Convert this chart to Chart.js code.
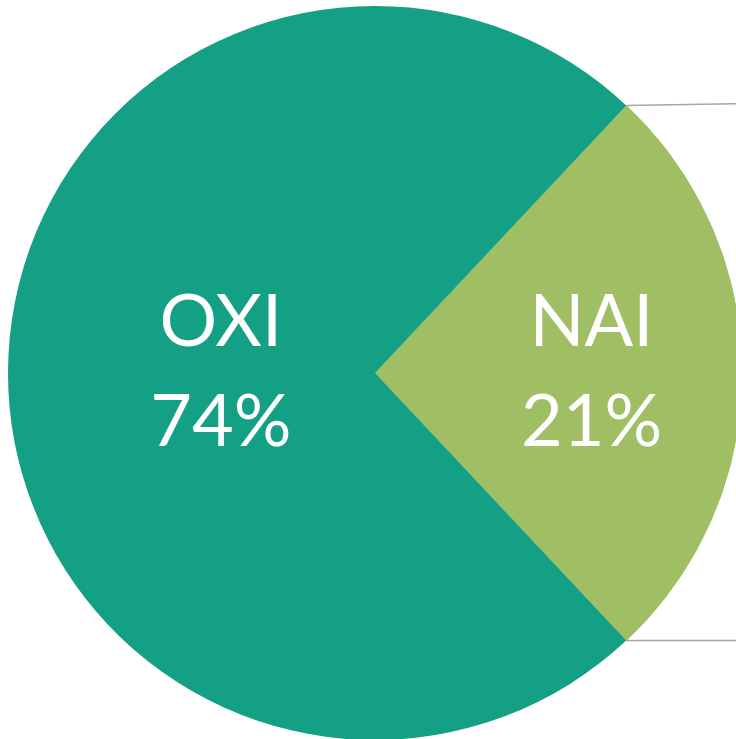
<!DOCTYPE html>
<html>
<head>
<meta charset="utf-8">
<script src="https://cdn.jsdelivr.net/npm/chart.js@4"></script>
<style>
  html, body { margin: 0; padding: 0; background: #fff; overflow: hidden; }
  #wrap { width: 736px; height: 739px; overflow: hidden; }
</style>
</head>
<body>
<div id="wrap"><canvas id="pie" width="750" height="746"></canvas></div>
<script>
// slice data (the third part is the rest of the split slice, drawn in the NAI colour)
const categories = ["NAI", "Other", "OXI"];
const values = [21, 5, 74];
const colours = ["#a0be63", "#a0be63", "#14a085"];

// label text per slice, and how far out from centre it sits (fraction of radius)
const labelSpots = [
  { group: [0, 1], lines: ["NAI", "21%"], frac: 0.59 },
  { group: [2], lines: ["OXI", "74%"], frac: 0.42 }
];

const pieLabels = {
  id: 'pieLabels',
  afterDatasetsDraw(chart) {
    const ctx = chart.ctx;
    const arcs = chart.getDatasetMeta(0).data;
    ctx.save();

    // connector lines from the split slice edges to the right edge
    const first = arcs[0], last = arcs[1];
    const r = first.outerRadius;
    const p1 = { x: first.x + r * Math.cos(first.startAngle), y: first.y + r * Math.sin(first.startAngle) };
    const p2 = { x: last.x + r * Math.cos(last.endAngle), y: last.y + r * Math.sin(last.endAngle) };
    ctx.strokeStyle = '#a6a6a6';
    ctx.lineWidth = 1.5;
    ctx.beginPath();
    ctx.moveTo(p1.x, p1.y); ctx.lineTo(chart.width, p1.y - 2);
    ctx.moveTo(p2.x, p2.y); ctx.lineTo(chart.width, p2.y);
    ctx.stroke();

    // slice labels
    ctx.fillStyle = '#ffffff';
    ctx.font = '72px Lato';
    ctx.textAlign = 'center';
    ctx.textBaseline = 'middle';
    labelSpots.forEach(function (s) {
      const a0 = arcs[s.group[0]].startAngle;
      const a1 = arcs[s.group[s.group.length - 1]].endAngle;
      const mid = (a0 + a1) / 2;
      const cx = first.x + r * s.frac * Math.cos(mid);
      const cy = first.y + r * s.frac * Math.sin(mid);
      ctx.fillText(s.lines[0], cx, cy - 50);
      ctx.fillText(s.lines[1], cx, cy + 50);
    });
    ctx.restore();
  }
};

let context = document.querySelector("#pie").getContext('2d');
new Chart(context, {
  type: 'pie',
  data: {
    labels: categories,
    datasets: [{
      data: values,
      backgroundColor: colours,
      borderColor: colours,
      borderWidth: [1, 1, 0]
    }]
  },
  options: {
    responsive: false,
    animation: false,
    devicePixelRatio: 1,
    rotation: 43.2,
    layout: { padding: { top: 5.5, bottom: 5.5 } },
    plugins: {
      legend: { display: false },
      tooltip: { enabled: false }
    }
  },
  plugins: [pieLabels]
});
</script>
</body>
</html>
